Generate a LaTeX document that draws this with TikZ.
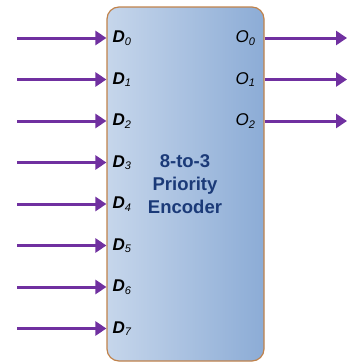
\documentclass[tikz,border=0pt]{standalone}
\usepackage{fontspec}
\setmainfont{Liberation Sans}
\usetikzlibrary{arrows.meta,positioning}
\definecolor{sigpurple}{HTML}{7030A0}
\definecolor{boxedge}{HTML}{C0824B}
\definecolor{boxlight}{HTML}{C6D6EB}
\definecolor{boxdark}{HTML}{8CACD6}
\definecolor{encnavy}{HTML}{1B3A78}
\tikzset{
  encbox/.style = {draw=boxedge, line width=1.2pt, rounded corners=12pt, left color=boxlight, right color=boxdark, minimum width=157pt, minimum height=354pt, inner sep=0pt},
  sig/.style = {draw=sigpurple, line width=3pt, -{Triangle[length=11pt,width=14pt]}},
  pinlab/.style = {inner sep=0pt, font=\fontsize{17}{20}\selectfont\itshape}
}
\newcommand{\pinD}[1]{\textbf{D}\textsubscript{\fontsize{11}{13}\selectfont #1}}
\newcommand{\pinO}[1]{O\textsubscript{\fontsize{11}{13}\selectfont #1}}
\begin{document}
\begin{tikzpicture}[x = 1pt, y = -1pt, line join = round]
			\useasboundingbox (0,0) rectangle (347,362);
			%Khối mã hoá
			\node[encbox] (enc) at (185.5,184) {};
			\node[align=center, text=encnavy, font=\fontsize{18.5}{23}\selectfont\bfseries] (title) at (185,184) {8-to-3\\Priority\\Encoder};
			%Các ngõ vào D
			\foreach \i in {0,...,7} {
				\coordinate (in\i) at (17,{38+41.5*\i});
				\draw[sig] (in\i) -- (in\i -| enc.west);
				\node[pinlab, anchor=west] (d\i) at ([xshift=6pt]in\i -| enc.west) {\pinD{\i}};
			}
			%Các ngõ ra O
			\foreach \i in {0,1,2} {
				\coordinate (out\i) at (347,{38+41.5*\i});
				\draw[sig] (out\i -| enc.east) -- (out\i);
				\node[pinlab, anchor=east] (o\i) at ([xshift=-9pt]out\i -| enc.east) {\pinO{\i}};
			}
	\end{tikzpicture}
\end{document}
